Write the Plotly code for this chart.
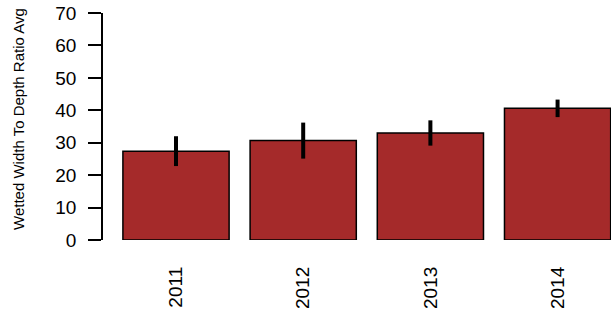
import plotly.graph_objects as go

years = ["2011", "2012", "2013", "2014"]
means = [27.4, 30.65, 33.0, 40.6]
errors = [4.6, 5.55, 3.9, 2.7]
y_ticks = [0, 10, 20, 30, 40, 50, 60, 70]
y_title = "Wetted Width To Depth Ratio Avg"

W, H = 611, 321
L, R, T, B = 103, 0, 13, 81
pw = W - L - R
ph = H - T - B

fig = go.Figure()
fig.add_trace(go.Bar(
    x=years, y=means, width=0.835,
    marker=dict(color="#A52A2A", line=dict(color="black", width=1.5)),
    error_y=dict(type="data", array=errors, visible=True, color="black",
                 thickness=4, width=0),
))

fig.update_layout(
    width=W, height=H,
    margin=dict(l=L, r=R, t=T, b=B, pad=0),
    plot_bgcolor="white", paper_bgcolor="white",
    showlegend=False,
    font=dict(family="Liberation Sans, Arial, sans-serif", color="black"),
    xaxis=dict(type="category", range=[-0.574, 3.42], showline=False,
               showgrid=False, zeroline=False, ticks="", tickangle=-90,
               tickfont=dict(size=19), ticklabelstandoff=22),
    yaxis=dict(range=[0, 70], tickvals=y_ticks, showline=True,
               linecolor="black", linewidth=1.5, ticks="outside",
               ticklen=13, tickwidth=1.5, tickcolor="black",
               showgrid=False, zeroline=False, tickfont=dict(size=19),
               ticklabelstandoff=8),
    annotations=[dict(text=y_title, textangle=-90, showarrow=False,
                      xref="paper", yref="paper",
                      x=(19 - L) / pw, y=(H - B - 119) / ph,
                      xanchor="center", yanchor="middle",
                      font=dict(size=15, color="black"))],
)

fig.write_html("out.html",
               config={"displayModeBar": False},
               post_script="document.body.style.margin='0';document.body.style.overflow='hidden';")
